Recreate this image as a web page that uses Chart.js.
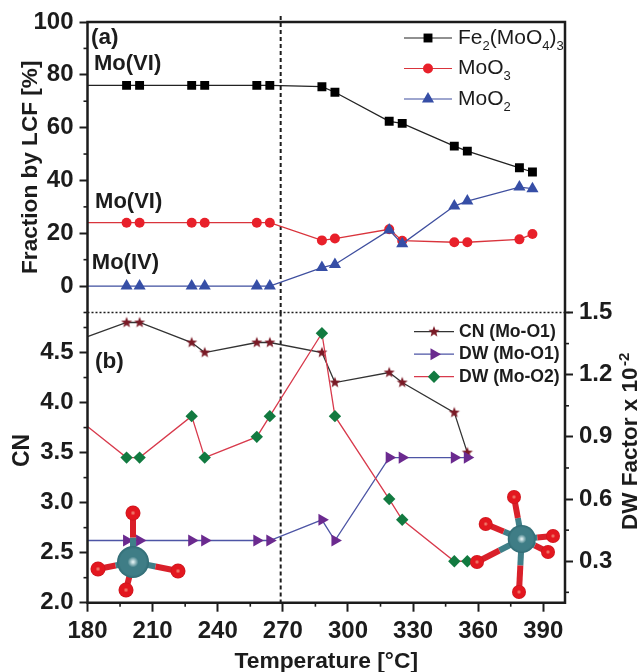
<!DOCTYPE html>
<html lang="en">
<head>
    <meta charset="UTF-8">
    <title>LCF fractions and EXAFS fit</title>
    <script src="https://cdn.jsdelivr.net/npm/chart.js"></script>
    <style>
        html, body { margin: 0; background: #fff; overflow: hidden; }
        canvas { position: absolute; left: 0; top: 0; }
    </style>
</head>
<body>
    <canvas id="chartA" width="643" height="672"></canvas>
    <canvas id="chartB" width="643" height="672"></canvas>

    <script>
        // Temperatures, first entry is where each line enters at the left axis
        const temps = [180, 198, 204, 228, 234, 258, 264, 288, 294, 319, 325, 349, 355, 379, 385];

        // Panel (a), fraction by LCF [%]
        const fe2moo43 = [76, 76, 76, 76, 76, 76, 76, 75.5, 73.4, 62.4, 61.6, 53, 51.1, 44.8, 43.2];
        const moo3 = [24, 24, 24, 24, 24, 24, 24, 17.3, 18, 21.5, 17.2, 16.6, 16.6, 17.7, 19.7];
        const moo2 = [0, 0, 0, 0, 0, 0, 0, 7, 8.2, 21.2, 16, 30.3, 32.2, 37.5, 36.9];

        // Panel (b), these series stop at 355 C
        const cnMoO1 = [4.66, 4.8, 4.8, 4.6, 4.5, 4.6, 4.6, 4.5, 4.2, 4.3, 4.2, 3.9, 3.5];
        const dwMoO1 = [0.4, 0.4, 0.4, 0.4, 0.4, 0.4, 0.4, 0.5, 0.4, 0.8, 0.8, 0.8, 0.8];
        const dwMoO2 = [0.95, 0.8, 0.8, 1.0, 0.8, 0.9, 1.0, 1.4, 1.0, 0.6, 0.5, 0.3, 0.3];

        // Ticks
        const xTicks = [180, 210, 240, 270, 300, 330, 360, 390];
        const xMinor = [195, 225, 255, 285, 315, 345, 375];
        const fractionTicks = [0, 20, 40, 60, 80, 100];
        const fractionMinor = [-10, 10, 30, 50, 70, 90];
        const cnTicks = [2.0, 2.5, 3.0, 3.5, 4.0, 4.5];
        const cnMinor = [2.25, 2.75, 3.25, 3.75, 4.25, 4.75];
        const dwTicks = [0.3, 0.6, 0.9, 1.2, 1.5];
        const dwMinor = [0.15, 0.45, 0.75, 1.05, 1.35];

        const transitionTemp = 269;

        const INK = '#1c1c1c';
        const FONT = '"Liberation Sans", Arial, sans-serif';

        function zip(ys) {
            return ys.map((y, i) => ({ x: temps[i], y: y }));
        }

        // Chart.js has no filled five pointed star, so make one as a point image
        function makeStar(color, r) {
            const c = document.createElement('canvas');
            c.width = c.height = Math.ceil(r * 2 + 2);
            const ctx = c.getContext('2d');
            ctx.translate(c.width / 2, c.height / 2);
            ctx.beginPath();
            for (let i = 0; i < 10; i++) {
                const rad = i % 2 ? r * 0.42 : r;
                const a = -Math.PI / 2 + i * Math.PI / 5;
                ctx.lineTo(Math.cos(a) * rad, Math.sin(a) * rad);
            }
            ctx.closePath();
            ctx.fillStyle = color;
            ctx.fill();
            return c;
        }

        function series(label, ys, yAxisID, line, fill, style, size, order, extra) {
            return Object.assign({
                label: label,
                data: zip(ys),
                yAxisID: yAxisID,
                order: order,
                showLine: true,
                borderColor: line,
                borderWidth: 1.3,
                pointStyle: style,
                // the entry point on the axis only carries the line
                pointRadius: ctx => (ctx.parsed && ctx.parsed.x === temps[0] ? 0 : size),
                pointBackgroundColor: fill,
                pointBorderColor: fill,
                pointBorderWidth: 0,
                legendRadius: size
            }, extra || {});
        }

        function transitionLine(yAxisID, yTop, yBottom) {
            return {
                label: 'transition',
                data: [{ x: transitionTemp, y: yTop }, { x: transitionTemp, y: yBottom }],
                yAxisID: yAxisID,
                order: 4,
                showLine: true,
                clip: false,
                borderColor: INK,
                borderWidth: 2,
                borderDash: [4, 3],
                pointRadius: 0
            };
        }

        function xAxis(visible) {
            return {
                type: 'linear',
                display: visible,
                min: 180,
                max: 400,
                afterBuildTicks: s => { s.ticks = xTicks.map(v => ({ value: v })); },
                afterFit: s => { if (visible) s.height = 69.3; },
                border: { display: false },
                grid: { drawOnChartArea: false, color: INK, tickLength: 9, tickWidth: 2 },
                ticks: {
                    color: INK, padding: 5, maxRotation: 0, autoSkip: false,
                    font: { family: FONT, size: 24, weight: 'bold' }
                },
                title: {
                    display: visible,
                    text: 'Temperature [°C]',
                    color: INK,
                    font: { family: FONT, size: 22.8, weight: 'bold' },
                    padding: { top: 0, bottom: -3 }
                }
            };
        }

        function yAxis(position, min, max, tickValues, digits, width) {
            return {
                type: 'linear',
                position: position,
                min: min,
                max: max,
                afterBuildTicks: s => { s.ticks = tickValues.map(v => ({ value: v })); },
                afterFit: s => { s.width = width; },
                border: { display: false },
                grid: { drawOnChartArea: false, color: INK, tickLength: 8, tickWidth: 2 },
                ticks: {
                    color: INK, padding: 6, autoSkip: false,
                    font: { family: FONT, size: 24, weight: 'bold' },
                    callback: v => v.toFixed(digits)
                }
            };
        }

        function line(ctx, x1, y1, x2, y2) {
            ctx.beginPath();
            ctx.moveTo(x1, y1);
            ctx.lineTo(x2, y2);
            ctx.stroke();
        }

        function minorTicks(ctx, scale, values, len) {
            ctx.strokeStyle = INK;
            ctx.lineWidth = 1.6;
            values.forEach(v => {
                const p = scale.getPixelForValue(v);
                if (scale.isHorizontal()) line(ctx, p, scale.top, p, scale.top + len);
                else if (scale.position === 'left') line(ctx, scale.right - len, p, scale.right, p);
                else line(ctx, scale.left, p, scale.left + len, p);
            });
        }

        function text(ctx, str, x, y, size, weight, rotate) {
            ctx.save();
            ctx.translate(x, y);
            if (rotate) ctx.rotate(rotate);
            ctx.font = `${weight} ${size}px ${FONT}`;
            ctx.fillStyle = INK;
            ctx.textAlign = 'left';
            ctx.textBaseline = 'middle';
            ctx.fillText(str, 0, 0);
            ctx.restore();
        }

        // Digits in the formulas sit lower and smaller
        function chemText(ctx, str, x, y, size) {
            let cx = x;
            str.split(/(\d)/).forEach(part => {
                if (!part) return;
                const sub = /\d/.test(part);
                ctx.font = `${sub ? size * 0.62 : size}px ${FONT}`;
                ctx.fillStyle = INK;
                ctx.textAlign = 'left';
                ctx.textBaseline = 'middle';
                ctx.fillText(part, cx, sub ? y + size * 0.38 : y);
                cx += ctx.measureText(part).width;
            });
        }

        function legend(chart, opts) {
            const ctx = chart.ctx;
            chart.data.datasets.filter(d => d.label !== 'transition').forEach((d, i) => {
                const y = opts.y + i * opts.gap;
                ctx.save();
                ctx.strokeStyle = d.borderColor;
                ctx.lineWidth = 1.2;
                line(ctx, opts.x1, y, opts.x2, y);
                ctx.fillStyle = d.pointBackgroundColor;
                ctx.strokeStyle = d.pointBorderColor;
                ctx.lineWidth = 0;
                Chart.helpers.drawPoint(ctx, {
                    pointStyle: d.pointStyle,
                    rotation: d.pointRotation || 0,
                    radius: d.legendRadius,
                    borderWidth: 0
                }, (opts.x1 + opts.x2) / 2, y);
                opts.draw(ctx, d.label, opts.textX, y);
                ctx.restore();
            });
        }

        function molecule(ctx, center, r, oxygens, oxygenR) {
            ctx.save();
            ctx.lineCap = 'butt';
            oxygens.forEach(o => {
                const mx = (center[0] + o[0]) / 2;
                const my = (center[1] + o[1]) / 2;
                ctx.lineWidth = 6;
                ctx.strokeStyle = '#3f7f88';
                line(ctx, center[0], center[1], mx, my);
                ctx.strokeStyle = '#d9202a';
                line(ctx, mx, my, o[0], o[1]);
            });
            const ball = (x, y, rad, light, mid, rim) => {
                const g = ctx.createRadialGradient(x, y, rad * 0.05, x, y, rad);
                g.addColorStop(0, light);
                g.addColorStop(0.3, mid);
                g.addColorStop(0.8, mid);
                g.addColorStop(1, rim);
                ctx.fillStyle = g;
                ctx.beginPath();
                ctx.arc(x, y, rad, 0, Math.PI * 2);
                ctx.fill();
            };
            oxygens.forEach(o => ball(o[0], o[1], oxygenR, '#f08070', '#e3171f', '#c8141c'));
            ball(center[0], center[1], r, '#d5e8ea', '#3f7d86', '#2f6a73');
            ctx.restore();
        }

        // Frame, minor ticks, legend and labels for panel (a)
        const panelA = {
            id: 'panelA',
            afterDatasetsDraw(chart) {
                const ctx = chart.ctx;
                const a = chart.chartArea;
                const x = chart.scales.x;
                const y = chart.scales.y;
                ctx.save();
                ctx.strokeStyle = INK;
                ctx.lineWidth = 2.5;
                ctx.beginPath();
                ctx.moveTo(a.left, a.bottom);
                ctx.lineTo(a.left, a.top);
                ctx.lineTo(a.right, a.top);
                ctx.lineTo(a.right, a.bottom);
                ctx.stroke();
                ctx.lineWidth = 1.4;
                ctx.setLineDash([2, 2]);
                line(ctx, a.left, a.bottom, a.right + 6, a.bottom);
                ctx.setLineDash([]);
                minorTicks(ctx, y, fractionMinor, 4);

                text(ctx, '(a)', 91, 38, 22.5, 'bold');
                text(ctx, 'Mo(VI)', x.getPixelForValue(183), y.getPixelForValue(84), 22, 'bold');
                text(ctx, 'Mo(VI)', x.getPixelForValue(183.5), y.getPixelForValue(32), 22, 'bold');
                text(ctx, 'Mo(IV)', x.getPixelForValue(182), y.getPixelForValue(8.7), 22, 'bold');
                legend(chart, {
                    x1: 404, x2: 452, y: 38, gap: 30.5, textX: 458,
                    draw: (c, s, tx, ty) => chemText(c, s, tx, ty, 21)
                });
                ctx.restore();
            }
        };

        // Frame, minor ticks, legend, labels and the two structure sketches for panel (b)
        const panelB = {
            id: 'panelB',
            afterDatasetsDraw(chart) {
                const ctx = chart.ctx;
                const a = chart.chartArea;
                ctx.save();
                ctx.strokeStyle = INK;
                ctx.lineWidth = 2.5;
                ctx.beginPath();
                ctx.moveTo(a.left, a.top);
                ctx.lineTo(a.left, a.bottom);
                ctx.lineTo(a.right, a.bottom);
                ctx.lineTo(a.right, a.top);
                ctx.stroke();
                minorTicks(ctx, chart.scales.x, xMinor, 4);
                minorTicks(ctx, chart.scales.yCN, cnMinor, 4);
                minorTicks(ctx, chart.scales.yDW, dwMinor, 4);

                molecule(ctx, [133, 562], 16, [[133, 513], [98, 569], [178, 571], [126, 590]], 7.5);
                molecule(ctx, [521.7, 539], 14, [[514, 497], [485.7, 524], [553, 536], [548, 552], [477, 562], [519, 592]], 7);

                text(ctx, '(b)', 95, 362, 22.5, 'bold');
                text(ctx, 'CN', 23, 467, 23, 'bold', -Math.PI / 2);
                text(ctx, 'DW Factor x 10', 631, 530, 22.5, 'bold', -Math.PI / 2);
                text(ctx, '-2', 625, 366, 15, 'bold', -Math.PI / 2);
                legend(chart, {
                    x1: 414, x2: 454, y: 331.7, gap: 22.5, textX: 459,
                    draw: (c, s, tx, ty) => text(c, s, tx, ty, 17.6, 'bold')
                });
                ctx.restore();
            }
        };

        new Chart(document.getElementById('chartA'), {
            type: 'scatter',
            data: {
                datasets: [
                    transitionLine('y', 102.3, -10),
                    series('Fe2(MoO4)3', fe2moo43, 'y', '#222222', '#000000', 'rect', 6.3, 3),
                    series('MoO3', moo3, 'y', '#d9343c', '#e8202a', 'circle', 5, 2),
                    series('MoO2', moo2, 'y', '#3f4f9f', '#364ea6', 'triangle', 7, 1)
                ]
            },
            options: {
                responsive: false,
                animation: false,
                layout: { padding: { top: 22, right: 78, bottom: 359.5, left: 0 } },
                plugins: { legend: { display: false }, tooltip: { enabled: false } },
                scales: {
                    x: xAxis(false),
                    y: Object.assign(yAxis('left', -10, 100, fractionTicks, 0, 87.5), {
                        title: {
                            display: true,
                            text: 'Fraction by LCF [%]',
                            color: INK,
                            font: { family: FONT, size: 22.6, weight: 'bold' },
                            padding: { top: 17, bottom: 0 }
                        }
                    })
                }
            },
            plugins: [panelA]
        });

        new Chart(document.getElementById('chartB'), {
            type: 'scatter',
            data: {
                datasets: [
                    transitionLine('yCN', 4.9, 2.0),
                    series('CN (Mo-O1)', cnMoO1, 'yCN', '#333333', '#7a1a26', makeStar('#7a1a26', 5.8), 6, 3),
                    series('DW (Mo-O1)', dwMoO1, 'yDW', '#4d55a5', '#6b2a8f', 'triangle', 7, 2, { pointRotation: 90 }),
                    series('DW (Mo-O2)', dwMoO2, 'yDW', '#d83a4c', '#127a40', 'rectRot', 6.2, 1)
                ]
            },
            options: {
                responsive: false,
                animation: false,
                layout: { padding: { top: 312.5, right: 0, bottom: 0, left: 0 } },
                plugins: { legend: { display: false }, tooltip: { enabled: false } },
                scales: {
                    x: xAxis(true),
                    yCN: yAxis('left', 2.0, 4.9, cnTicks, 1, 87.5),
                    yDW: yAxis('right', 0.1, 1.5, dwTicks, 1, 78)
                }
            },
            plugins: [panelB]
        });
    </script>
</body>
</html>
